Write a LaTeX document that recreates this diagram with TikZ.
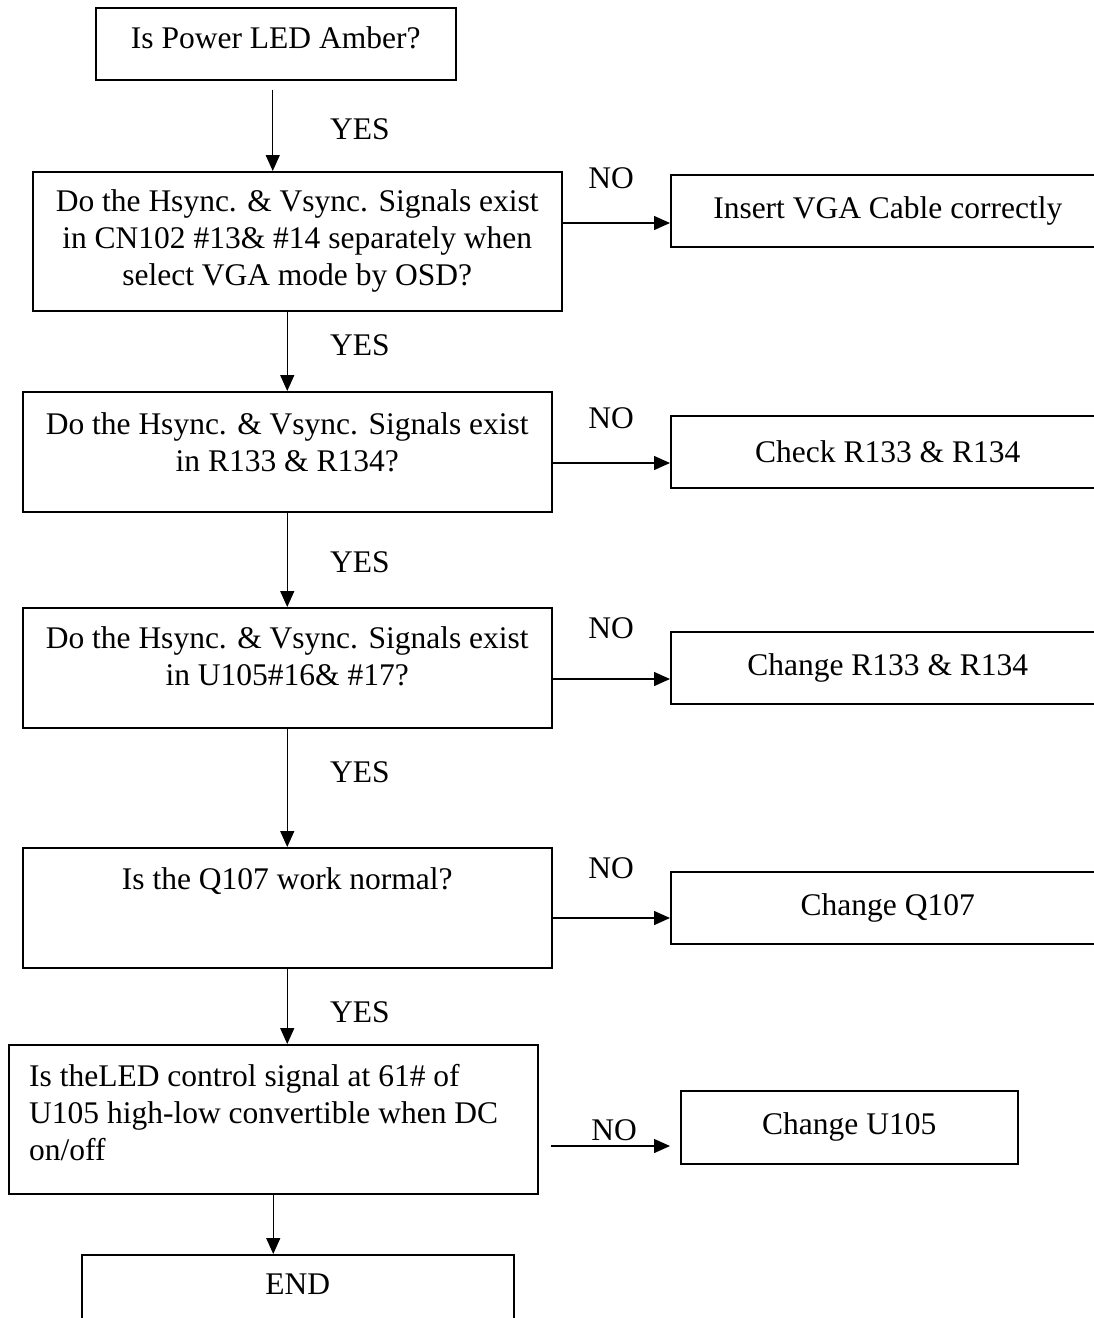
\documentclass[tikz,border=0pt]{standalone}
\usepackage{fontspec}
\setmainfont{Liberation Serif}
\usetikzlibrary{arrows.meta, positioning}

\begin{document}
\begin{tikzpicture}[x=1pt, y=-1pt]
		\tikzset{
			myarrow/.tip={Triangle[length=16pt, width=14pt]},
			box/.style={draw, line width=1.5pt, rectangle, inner sep=0pt, anchor=north west, font=\fontsize{31.5}{37}\selectfont},
			boxtext/.style={inner sep=0pt, align=center, font=\fontsize{31.5}{37}\selectfont},
			tag/.style={inner sep=0pt, font=\fontsize{31.5}{37}\selectfont},
			flow/.style={-myarrow, line width=1.4pt},
		}
		\useasboundingbox (0,0) rectangle (1094,1318);
		\clip (0,0) rectangle (1094,1318);

		% left column
		\node[box, minimum width=360pt, minimum height=72pt] (start) at (95,7) {};
		\node[box, minimum width=529pt, minimum height=139pt] (q1) at (32,171) {};
		\node[box, minimum width=529pt, minimum height=120pt] (q2) at (22,391) {};
		\node[box, minimum width=529pt, minimum height=120pt] (q3) at (22,607) {};
		\node[box, minimum width=529pt, minimum height=120pt] (q4) at (22,847) {};
		\node[box, minimum width=529pt, minimum height=149pt] (q5) at (8,1044) {};
		\node[box, minimum width=432pt, minimum height=100pt] (end) at (81,1254) {};

		\node[boxtext, below=19pt of start.north] (startt) {Is Power LED Amber?};
		\node[boxtext, below=18pt of q1.north] (q1t) {Do the Hsync. \& Vsync. Signals exist\\in CN102 \#13\& \#14 separately when\\select VGA mode by OSD?};
		\node[boxtext, below=21pt of q2.north] (q2t) {Do the Hsync. \& Vsync. Signals exist\\in R133 \& R134?};
		\node[boxtext, below=19pt of q3.north] (q3t) {Do the Hsync. \& Vsync. Signals exist\\in U105\#16\& \#17?};
		\node[boxtext, below=20pt of q4.north] (q4t) {Is the Q107 work normal?};
		\node[boxtext, align=left, below right=20pt and 21pt of q5.north west] (q5t) {Is theLED control signal at 61\# of\\U105 high-low convertible when DC\\on/off};
		\node[boxtext, below=20pt of end.north] (endt) {END};

		% right column
		\node[box, minimum width=434pt, minimum height=72pt] (r1) at (670,174) {Insert VGA Cable correctly};
		\node[box, minimum width=434pt, minimum height=72pt] (r2) at (670,415) {Check R133 \& R134};
		\node[box, minimum width=434pt, minimum height=72pt] (r3) at (670,631) {Change R133 \& R134};
		\node[box, minimum width=434pt, minimum height=72pt] (r4) at (670,871) {Change Q107};
		\node[box, minimum width=337pt, minimum height=73pt] (r5) at (680,1090) {Change U105};

		% YES branches
		\coordinate (s1) at ([shift={(-3,9)}]start.south);
		\draw[flow] (s1) -- (s1 |- q1.north);
		\draw[flow] (q2.north |- q1.south) -- (q2.north);
		\draw[flow] (q2.south) -- (q3.north);
		\draw[flow] (q3.south) -- (q4.north);
		\draw[flow] (q4.south) -- (q4.south |- q5.north);
		\draw[flow] (q5.south) -- (q5.south |- end.north);

		% NO branches
		\draw[flow] (q1.east |- 0,223) -- (r1.west |- 0,223);
		\draw[flow] (q2.east |- 0,463) -- (r2.west |- 0,463);
		\draw[flow] (q3.east |- 0,679) -- (r3.west |- 0,679);
		\draw[flow] (q4.east |- 0,918) -- (r4.west |- 0,918);
		\coordinate (n5) at (551,1146);
		\draw[flow] (n5) -- ([xshift=-10pt]r5.west |- n5);

		\node[tag] (yes1) at (360,129) {YES};
		\node[tag] (yes2) at (360,345) {YES};
		\node[tag] (yes3) at (360,562) {YES};
		\node[tag] (yes4) at (360,772) {YES};
		\node[tag] (yes5) at (360,1012) {YES};
		\node[tag] (no1) at (611,178) {NO};
		\node[tag] (no2) at (611,418) {NO};
		\node[tag] (no3) at (611,628) {NO};
		\node[tag] (no4) at (611,868) {NO};
		\node[tag] (no5) at (614,1130) {NO};
	\end{tikzpicture}
\end{document}
